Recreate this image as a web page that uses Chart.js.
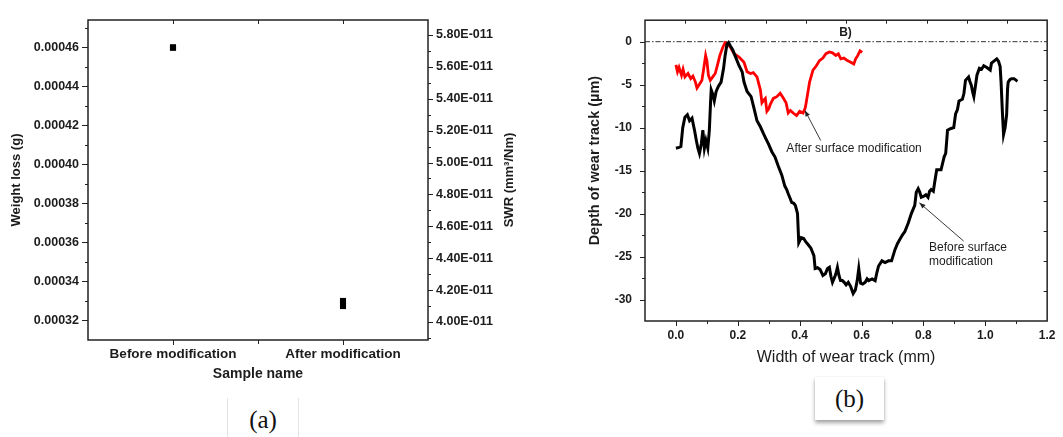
<!DOCTYPE html>
<html>
<head>
<meta charset="utf-8">
<script src="https://cdn.jsdelivr.net/npm/chart.js@4.4.1/dist/chart.umd.min.js"></script>
<style>
  html, body { margin: 0; padding: 0; background: #fff; }
  body { width: 1063px; height: 437px; position: relative; overflow: hidden; }
  #chartA { position: absolute; left: 0; top: 0; }
  #chartB { position: absolute; left: 560px; top: 0; }
  .cap { position: absolute; background: #fff; color: #111; text-align: center;
         font-family: "Liberation Serif", "Times New Roman", serif; font-size: 25px; }
  #capA { left: 227px; top: 398px; width: 70px; height: 50px; line-height: 44px;
          border-left: 1px solid #e4e4e4; border-right: 1px solid #e4e4e4; }
  #capB { left: 815px; top: 377px; width: 69px; height: 43px; line-height: 43px;
          box-shadow: 0 3px 4px rgba(0,0,0,0.35), 0 0 1px rgba(0,0,0,0.15); }
</style>
</head>
<body>
<canvas id="chartA" width="540" height="390"></canvas>
<canvas id="chartB" width="503" height="372"></canvas>
<div class="cap" id="capA">(a)</div>
<div class="cap" id="capB">(b)</div>

<script>
// ---------- panel (a): weight loss and specific wear rate ----------
const sampleNames = ['Before modification', 'After modification'];
const samplePos = [1, 2];
const weightLoss = [0.00046, 0.00033];     // g
const swrE11 = [5.72, 4.10];               // SWR, in units of 1E-011 mm³/Nm

// ---------- panel (b): wear track profiles ----------
const beforeX = [0.000, 0.010, 0.016, 0.022, 0.029, 0.037, 0.044, 0.052, 0.060, 0.066,
  0.071, 0.076, 0.082, 0.087, 0.092, 0.097, 0.103, 0.108, 0.112, 0.114, 0.119, 0.124,
  0.130, 0.137, 0.146, 0.154, 0.159, 0.165, 0.170, 0.176, 0.183, 0.193, 0.204, 0.214,
  0.220, 0.230, 0.243, 0.252, 0.262, 0.273, 0.283, 0.291, 0.299, 0.310, 0.320, 0.331,
  0.342, 0.352, 0.358, 0.363, 0.370, 0.374, 0.381, 0.386, 0.393, 0.397, 0.405, 0.413,
  0.420, 0.427, 0.436, 0.446, 0.450, 0.458, 0.466, 0.475, 0.483, 0.490, 0.496, 0.501,
  0.506, 0.513, 0.517, 0.522, 0.527, 0.532, 0.538, 0.544, 0.550, 0.557, 0.565, 0.573,
  0.580, 0.586, 0.591, 0.597, 0.604, 0.612, 0.618, 0.623, 0.634, 0.644, 0.650, 0.655,
  0.666, 0.676, 0.687, 0.697, 0.708, 0.716, 0.724, 0.732, 0.740, 0.751, 0.761, 0.772,
  0.777, 0.783, 0.788, 0.793, 0.800, 0.808, 0.815, 0.820, 0.825, 0.832, 0.838, 0.843,
  0.857, 0.867, 0.872, 0.878, 0.889, 0.898, 0.904, 0.910, 0.915, 0.926, 0.931, 0.936,
  0.946, 0.950, 0.955, 0.960, 0.963, 0.968, 0.973, 0.981, 0.988, 0.995, 1.005, 1.016,
  1.020, 1.030, 1.037, 1.043, 1.048, 1.051, 1.055, 1.059, 1.064, 1.069, 1.072, 1.074,
  1.080, 1.085, 1.093, 1.100, 1.104];
const beforeY = [-12.4, -12.3, -12.2, -10.0, -8.8, -8.5, -9.2, -8.9, -10.3, -11.5,
  -12.4, -13.0, -11.9, -10.3, -12.4, -11.5, -12.4, -10.3, -7.0, -5.6, -6.1, -6.9,
  -5.8, -5.2, -4.7, -3.1, -1.6, -0.3, -0.1, -0.5, -0.9, -1.8, -2.8, -3.5,
  -4.7, -5.8, -6.4, -7.7, -9.2, -9.9, -10.7, -11.3, -11.9, -12.8, -13.4, -14.5,
  -15.5, -16.8, -17.2, -17.7, -18.3, -18.7, -18.8, -19.05, -20.0, -23.4, -22.8, -22.9,
  -23.3, -23.6, -24.0, -24.9, -26.4, -26.3, -26.5, -27.2, -27.0, -26.4, -26.25, -27.3,
  -28.0, -27.4, -27.0, -26.25, -27.2, -27.8, -27.8, -28.0, -28.3, -28.0, -28.5, -29.3,
  -28.9, -27.8, -26.4, -28.1, -28.2, -28.0, -27.6, -27.8, -27.6, -27.8, -26.8, -26.1,
  -25.5, -25.7, -25.5, -25.5, -24.2, -23.5, -23.0, -22.5, -22.1, -21.1, -20.0, -19.05,
  -17.5, -17.1, -17.5, -18.1, -18.0, -17.8, -18.1, -17.4, -17.2, -17.4, -16.0, -14.9,
  -14.9, -13.4, -13.0, -10.3, -10.1, -10.0, -8.4, -7.9, -6.9, -6.7, -6.0, -4.5,
  -4.1, -4.6, -5.1, -6.0, -6.4, -5.2, -3.9, -3.1, -3.2, -2.8, -3.0, -3.3,
  -2.5, -2.2, -2.0, -2.3, -2.9, -4.7, -8.0, -10.8, -10.0, -8.5, -5.5, -4.7,
  -4.4, -4.3, -4.3, -4.5, -4.6];

const afterX = [0.000, 0.005, 0.010, 0.018, 0.023, 0.029, 0.039, 0.048, 0.055, 0.063,
  0.068, 0.075, 0.084, 0.090, 0.096, 0.100, 0.105, 0.111, 0.119, 0.127, 0.135, 0.142,
  0.151, 0.159, 0.166, 0.177, 0.188, 0.204, 0.220, 0.230, 0.241, 0.250, 0.262, 0.273,
  0.278, 0.284, 0.289, 0.294, 0.300, 0.305, 0.315, 0.326, 0.337, 0.346, 0.356, 0.363,
  0.370, 0.379, 0.390, 0.400, 0.411, 0.418, 0.421, 0.427, 0.432, 0.443, 0.454, 0.464,
  0.475, 0.485, 0.496, 0.506, 0.517, 0.525, 0.533, 0.543, 0.554, 0.565, 0.575, 0.581,
  0.588, 0.595, 0.602];
const afterY = [-2.7, -3.5, -3.0, -3.9, -3.2, -4.1, -3.7, -4.3, -4.0, -4.7,
  -5.4, -5.0, -4.5, -3.1, -1.6, -2.2, -3.9, -4.5, -4.1, -3.7, -2.6, -1.6,
  -0.7, -0.1, -0.2, -0.7, -1.4, -1.8, -2.4, -3.5, -3.7, -3.6, -4.1, -5.6,
  -7.1, -6.8, -6.6, -8.1, -7.8, -7.3, -6.6, -6.4, -6.0, -6.5, -7.1, -8.3,
  -8.0, -8.3, -8.6, -8.1, -8.3, -7.7, -7.1, -5.8, -4.7, -3.3, -2.8, -2.2,
  -1.9, -1.4, -1.2, -1.3, -1.6, -1.4, -2.0, -1.9, -2.2, -2.4, -2.6, -2.0,
  -1.6, -1.06, -1.25];

// original surface level (dash-dot reference)
const surfaceX = [-0.1, 1.2];
const surfaceY = [0, 0];

const FONT = '"Liberation Sans", Arial, Helvetica, sans-serif';
Chart.defaults.font.family = FONT;
Chart.defaults.color = '#1c1c1c';

const pairs = (xs, ys) => xs.map((x, i) => ({ x, y: ys[i] }));
const hasLabel = t => t.label !== '' && t.label != null;
const num = (v, d) => (typeof v === 'number' ? v : d);

// Plot frame plus tick marks on every edge (major/minor, inward/outward)
const frameTicks = {
  id: 'frameTicks',
  afterDraw(chart, args, opts) {
    const { ctx, chartArea: a } = chart;
    ctx.save();
    ctx.strokeStyle = '#222';
    ctx.lineWidth = 1;
    (opts.sides || []).forEach(s => {
      const sc = chart.scales[s.scale];
      if (!sc) return;
      const horiz = s.edge === 'top' || s.edge === 'bottom';
      const lo = horiz ? a.left : a.top, hi = horiz ? a.right : a.bottom;
      sc.ticks.forEach(t => {
        const p = sc.getPixelForValue(t.value);
        if (p < lo + 1.5 || p > hi - 1.5) return;
        const len = hasLabel(t) ? s.major : s.minor;
        const q = Math.round(p) + 0.5;
        ctx.beginPath();
        if (s.edge === 'left')   { ctx.moveTo(a.left, q);  ctx.lineTo(a.left + (s.out ? -len : len), q); }
        if (s.edge === 'right')  { ctx.moveTo(a.right, q); ctx.lineTo(a.right + (s.out ? len : -len), q); }
        if (s.edge === 'top')    { ctx.moveTo(q, a.top);   ctx.lineTo(q, a.top + (s.out ? -len : len)); }
        if (s.edge === 'bottom') { ctx.moveTo(q, a.bottom); ctx.lineTo(q, a.bottom + (s.out ? len : -len)); }
        ctx.stroke();
      });
    });
    ctx.lineWidth = 1.5;
    ctx.strokeRect(a.left, a.top, a.right - a.left, a.bottom - a.top);
    ctx.restore();
  }
};

// Vertical axis titles reading bottom-to-top
const sideText = {
  id: 'sideText',
  afterDraw(chart, args, opts) {
    const { ctx, chartArea: a } = chart;
    (opts.items || []).forEach(it => {
      ctx.save();
      ctx.font = `${it.weight || 'normal'} ${it.size}px ${FONT}`;
      ctx.fillStyle = '#1c1c1c';
      ctx.textAlign = 'center';
      ctx.textBaseline = 'middle';
      ctx.translate(num(it.x, 0), (a.top + a.bottom) / 2 + num(it.dy, 0));
      ctx.rotate(-Math.PI / 2);
      ctx.fillText(it.text, 0, 0);
      ctx.restore();
    });
  }
};

// Text labels and leader arrows placed in data coordinates
const notes = {
  id: 'notes',
  afterDatasetsDraw(chart, args, opts) {
    const { ctx } = chart;
    const xs = chart.scales.x, ys = chart.scales.y;
    ctx.save();
    (opts.texts || []).forEach(t => {
      ctx.font = `${t.weight || 'normal'} ${t.size}px ${FONT}`;
      ctx.fillStyle = '#1c1c1c';
      ctx.textAlign = t.align || 'left';
      ctx.textBaseline = 'middle';
      ctx.fillText(t.text, xs.getPixelForValue(t.x), ys.getPixelForValue(t.y));
    });
    (opts.arrows || []).forEach(ar => {
      const x1 = xs.getPixelForValue(ar.from[0]), y1 = ys.getPixelForValue(ar.from[1]);
      const x2 = xs.getPixelForValue(ar.to[0]), y2 = ys.getPixelForValue(ar.to[1]);
      ctx.strokeStyle = '#222';
      ctx.fillStyle = '#222';
      ctx.lineWidth = 0.9;
      ctx.beginPath(); ctx.moveTo(x1, y1); ctx.lineTo(x2, y2); ctx.stroke();
      const ang = Math.atan2(y2 - y1, x2 - x1), L = 6, W = 2.4;
      ctx.beginPath();
      ctx.moveTo(x2, y2);
      ctx.lineTo(x2 - L * Math.cos(ang) + W * Math.sin(ang), y2 - L * Math.sin(ang) - W * Math.cos(ang));
      ctx.lineTo(x2 - L * Math.cos(ang) - W * Math.sin(ang), y2 - L * Math.sin(ang) + W * Math.cos(ang));
      ctx.closePath(); ctx.fill();
    });
    ctx.restore();
  }
};

const noGrid = { display: false, drawTicks: false };

// ---------------- chart (a) ----------------
new Chart(document.getElementById('chartA'), {
  type: 'scatter',
  data: {
    datasets: [
      { label: 'Weight loss (g)', data: pairs(samplePos, weightLoss), xAxisID: 'x', yAxisID: 'yL',
        pointStyle: 'rect', pointRadius: 4.3, backgroundColor: '#000', borderColor: '#000', borderWidth: 0 },
      { label: 'SWR (mm³/Nm)', data: pairs(samplePos, swrE11), xAxisID: 'x', yAxisID: 'yR',
        pointStyle: 'rect', pointRadius: 4.3, backgroundColor: '#000', borderColor: '#000', borderWidth: 0 }
    ]
  },
  options: {
    responsive: false, animation: false, events: [],
    layout: { padding: { top: 20, left: 0, right: 0, bottom: 0 } },
    plugins: {
      legend: { display: false }, tooltip: { enabled: false },
      frameTicks: { sides: [
        { scale: 'yL', edge: 'left', out: true, major: 6, minor: 3 },
        { scale: 'yR', edge: 'right', out: true, major: 5, minor: 3 },
        { scale: 'x', edge: 'bottom', out: true, major: 5, minor: 4 },
        { scale: 'x', edge: 'top', out: false, major: 4, minor: 4 }
      ] },
      sideText: { items: [ { text: 'SWR (mm³/Nm)', x: 509, dy: 0, size: 13, weight: 'bold' } ] }
    },
    scales: {
      x: {
        type: 'linear', position: 'bottom', min: 0.5, max: 2.5,
        afterFit: s => { s.height = 50; },
        grid: noGrid, border: { display: false },
        ticks: { stepSize: 0.5, autoSkip: false, maxRotation: 0, padding: 6,
                 font: { size: 13.5, weight: 'bold' },
                 callback: v => { const i = samplePos.indexOf(v); return i >= 0 ? sampleNames[i] : ''; } },
        title: { display: true, text: 'Sample name', font: { size: 14, weight: 'bold' },
                 padding: { top: 0, bottom: 7.6 } }
      },
      yL: {
        type: 'linear', position: 'left', min: 0.00031, max: 0.000474,
        afterFit: s => { s.width = 88; },
        grid: noGrid, border: { display: false },
        ticks: { stepSize: 0.00001, autoSkip: false, includeBounds: false, padding: 9,
                 font: { size: 12.5, weight: 'bold' },
                 callback: v => (Math.round(v / 0.00001) % 2 === 0 ? v.toFixed(5) : '') },
        title: { display: true, text: 'Weight loss (g)', font: { size: 13, weight: 'bold' },
                 padding: { top: 9, bottom: 0 } }
      },
      yR: {
        type: 'linear', position: 'right', min: 3.887, max: 5.894,
        afterFit: s => { s.width = 112; },
        grid: noGrid, border: { display: false },
        ticks: { stepSize: 0.1, autoSkip: false, includeBounds: false, padding: 8,
                 font: { size: 12.5, weight: 'bold' },
                 callback: v => (Math.round(v * 10) % 2 === 0 ? v.toFixed(2) + 'E-011' : '') }
      }
    }
  },
  plugins: [frameTicks, sideText]
});

// ---------------- chart (b) ----------------
new Chart(document.getElementById('chartB'), {
  type: 'scatter',
  data: {
    datasets: [
      { label: 'Before surface modification', data: pairs(beforeX, beforeY), showLine: true,
        xAxisID: 'x', yAxisID: 'y', borderColor: '#000', borderWidth: 3, pointRadius: 0, tension: 0 },
      { label: 'After surface modification', data: pairs(afterX, afterY), showLine: true,
        xAxisID: 'x', yAxisID: 'y', borderColor: '#ff0000', borderWidth: 2.8, pointRadius: 0, tension: 0 },
      { label: 'Surface', data: pairs(surfaceX, surfaceY), showLine: true,
        xAxisID: 'x', yAxisID: 'y', borderColor: '#333', borderWidth: 1, borderDash: [5, 2, 1.5, 2],
        pointRadius: 0 }
    ]
  },
  options: {
    responsive: false, animation: false, events: [],
    layout: { padding: 0 },
    plugins: {
      legend: { display: false }, tooltip: { enabled: false },
      frameTicks: { sides: [
        { scale: 'y', edge: 'left', out: true, major: 5, minor: 3 },
        { scale: 'x', edge: 'bottom', out: true, major: 5, minor: 3 },
        { scale: 'x2', edge: 'top', out: false, major: 3.5, minor: 3.5 },
        { scale: 'y2', edge: 'right', out: false, major: 3.5, minor: 3.5 }
      ] },
      sideText: { items: [ { text: 'Depth of wear track (µm)', x: 35, dy: -10, size: 14.5, weight: 'bold' } ] },
      notes: {
        texts: [
          { text: 'B)', x: 0.548, y: 1.0, size: 12, weight: 'bold', align: 'center' },
          { text: 'After surface modification', x: 0.357, y: -12.5, size: 12 },
          { text: 'Before surface', x: 0.818, y: -23.98, size: 12 },
          { text: 'modification', x: 0.818, y: -25.57, size: 12 }
        ],
        arrows: [
          { from: [0.468, -11.5], to: [0.417, -8.0] },
          { from: [0.930, -23.2], to: [0.787, -18.75] }
        ]
      }
    },
    scales: {
      x: {
        type: 'linear', position: 'bottom', min: -0.1, max: 1.2,
        afterFit: s => { s.height = 51; },
        grid: noGrid, border: { display: false },
        ticks: { stepSize: 0.1, autoSkip: false, includeBounds: false, maxRotation: 0, padding: 7.5,
                 font: { size: 12, weight: 'bold' },
                 callback: v => (Math.round(v * 10) % 2 === 0 ? (Math.round(v * 10) / 10).toFixed(1) : '') },
        title: { display: true, text: 'Width of wear track (mm)', font: { size: 16 },
                 padding: { top: 0, bottom: 4.4 } }
      },
      y: {
        type: 'linear', position: 'left', min: -32.5, max: 2.5,
        afterFit: s => { s.width = 85; },
        grid: noGrid, border: { display: false },
        ticks: { stepSize: 2.5, autoSkip: false, includeBounds: false, padding: 13,
                 font: { size: 12, weight: 'bold' },
                 callback: v => (Math.round(v / 2.5) % 2 === 0 ? String(Math.round(v) || 0) : '') }
      },
      x2: {
        type: 'linear', position: 'top', min: 0, max: 10,
        afterFit: s => { s.height = 12; },
        grid: noGrid, border: { display: false },
        ticks: { display: false, stepSize: 1, autoSkip: false }
      },
      y2: {
        type: 'linear', position: 'right', min: 0, max: 10,
        afterFit: s => { s.width = 10; },
        grid: noGrid, border: { display: false },
        ticks: { display: false, stepSize: 1, autoSkip: false }
      }
    }
  },
  plugins: [frameTicks, sideText, notes]
});
</script>
</body>
</html>
